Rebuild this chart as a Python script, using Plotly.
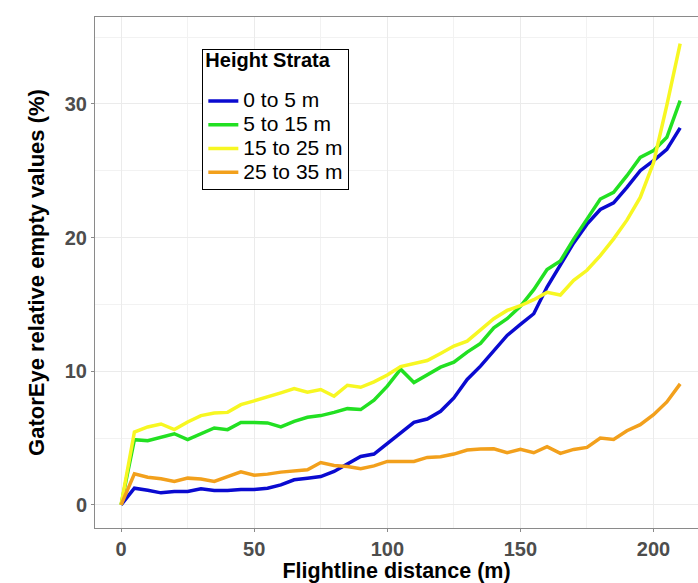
import plotly.graph_objects as go

distance = list(range(0, 211, 5))

strata_0_5 = [0, 1.25, 1.1, 0.9, 1.0, 1.0, 1.2, 1.08, 1.07, 1.15, 1.15, 1.25, 1.5, 1.88, 2.0,
              2.12, 2.5, 3.05, 3.62, 3.8, 4.6, 5.45, 6.17, 6.42, 7.0, 8.0, 9.38, 10.38, 11.5,
              12.68, 13.5, 14.3, 16.3, 18.0, 19.6, 21.0, 22.1, 22.6, 23.75, 25.0, 25.75, 26.6, 28.2]
strata_5_15 = [0, 4.88, 4.8, 5.05, 5.32, 4.88, 5.3, 5.75, 5.63, 6.17, 6.17, 6.13, 5.83, 6.25, 6.55,
               6.68, 6.92, 7.2, 7.13, 7.83, 8.88, 10.15, 9.15, 9.75, 10.3, 10.68, 11.43, 12.08, 13.25,
               13.93, 14.85, 16.1, 17.6, 18.25, 19.88, 21.38, 22.88, 23.38, 24.63, 26.0, 26.5, 27.5, 30.25]
strata_15_25 = [0, 5.45, 5.83, 6.05, 5.63, 6.2, 6.68, 6.88, 6.92, 7.5, 7.78, 8.05, 8.38, 8.7, 8.43,
                8.63, 8.13, 8.95, 8.8, 9.2, 9.72, 10.35, 10.55, 10.8, 11.33, 11.88, 12.25, 13.13, 13.93,
                14.55, 14.9, 15.35, 15.9, 15.7, 16.8, 17.55, 18.65, 19.9, 21.3, 23.0, 25.6, 29.9, 34.5]
strata_25_35 = [0, 2.32, 2.07, 1.95, 1.75, 2.0, 1.93, 1.75, 2.12, 2.47, 2.22, 2.3, 2.45, 2.55, 2.62,
                3.17, 2.95, 2.87, 2.7, 2.92, 3.25, 3.25, 3.25, 3.55, 3.6, 3.8, 4.1, 4.18, 4.2,
                3.9, 4.15, 3.9, 4.35, 3.85, 4.15, 4.3, 5.0, 4.9, 5.55, 6.0, 6.75, 7.7, 9.05]

series_names = ["0 to 5 m", "5 to 15 m", "15 to 25 m", "25 to 35 m"]
series_values = [strata_0_5, strata_5_15, strata_15_25, strata_25_35]
colors = ["#0a0ad0", "#22e022", "#f7f722", "#f2a01c"]

x_ticks = [0, 50, 100, 150, 200]
y_ticks = [0, 10, 20, 30]

fig = go.Figure()
for name, vals, col in zip(series_names, series_values, colors):
    fig.add_trace(go.Scatter(x=distance, y=vals, mode="lines",
                             name=f"<span style='font-size:21px'>{name}</span>",
                             line=dict(color=col, width=3.5)))

font_family = "Liberation Sans, Arial, sans-serif"
axis_common = dict(
    showgrid=True, gridcolor="#ebebeb", gridwidth=1,
    zeroline=False,
    showline=True, linecolor="#8a8a8a", linewidth=1, mirror=True,
    ticks="outside", ticklen=3, tickcolor="#8a8a8a",
    tickfont=dict(family=font_family, size=20, color="#4d4d4d", weight="bold"),
)

fig.update_xaxes(range=[-9.8, 216.7], tickvals=x_ticks,
                 minor=dict(dtick=25, tick0=25, showgrid=True, gridcolor="#f2f2f2"),
                 title=dict(text="<b>Flightline distance (m)</b>",
                            font=dict(family=font_family, size=21.5, color="black"), standoff=0),
                 **axis_common)
fig.update_yaxes(range=[-1.73, 36.5], tickvals=y_ticks,
                 minor=dict(dtick=10, tick0=5, showgrid=True, gridcolor="#f2f2f2"),
                 title=dict(text="<b>GatorEye relative empty values (%)</b>",
                            font=dict(family=font_family, size=22, color="black"), standoff=14),
                 **axis_common)

fig.update_layout(
    width=698, height=583,
    margin=dict(l=95, r=0, t=17, b=55),
    plot_bgcolor="white", paper_bgcolor="white",
    font=dict(family=font_family),
    legend=dict(
        title=dict(text="<span style='font-size:20px'><b>Height Strata</b></span><br> ",
                   font=dict(size=13, color="black", family=font_family)),
        font=dict(size=16, color="black", family=font_family),
        x=0.178, y=0.937, xanchor="left", yanchor="top",
        bordercolor="black", borderwidth=1, bgcolor="white",
        tracegroupgap=0, itemwidth=30,
    ),
)

fig.write_html("out.html")
